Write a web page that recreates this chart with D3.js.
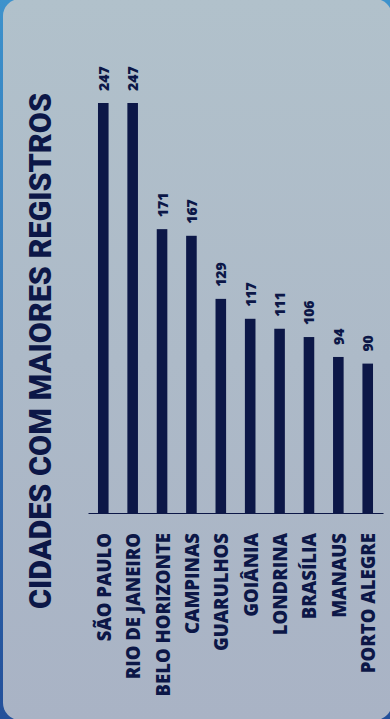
<!DOCTYPE html>
<html>
<head>
<meta charset="utf-8">
<title>Cidades com maiores registros</title>
<script src="https://d3js.org/d3.v7.min.js"></script>
<style>
  html, body { margin: 0; padding: 0; background: #3b86c4; }
  svg { display: block; }
</style>
</head>
<body>
<script>
// dados
var cidades = ["SÃO PAULO", "RIO DE JANEIRO", "BELO HORIZONTE", "CAMPINAS", "GUARULHOS",
               "GOIÂNIA", "LONDRINA", "BRASÍLIA", "MANAUS", "PORTO ALEGRE"];
var registros = [247, 247, 171, 167, 129, 117, 111, 106, 94, 90];
var titulo = "CIDADES COM MAIORES REGISTROS";

var w = 390, h = 719;
var navy = "#0c1747";

var svg = d3.select("body").append("svg")
    .attr("width", w)
    .attr("height", h);

// fundo do cartão
var defs = svg.append("defs");
var grad = defs.append("linearGradient").attr("id", "bg")
    .attr("x1", 0).attr("y1", 0).attr("x2", 0).attr("y2", 1);
grad.append("stop").attr("offset", "0%").attr("stop-color", "#b1c1cb");
grad.append("stop").attr("offset", "100%").attr("stop-color", "#a9b3c5");

var edge = defs.append("linearGradient").attr("id", "edge")
    .attr("x1", 0).attr("y1", 0).attr("x2", 0).attr("y2", 1);
edge.append("stop").attr("offset", "0%").attr("stop-color", "#3d92cc");
edge.append("stop").attr("offset", "100%").attr("stop-color", "#24509a");

svg.append("rect").attr("width", w).attr("height", h).attr("fill", "url(#edge)");
svg.append("rect")
    .attr("x", 3).attr("y", -1)
    .attr("width", 389).attr("height", 721)
    .attr("rx", 17)
    .attr("fill", "url(#bg)");

// escalas
var x = d3.scaleBand()
    .domain(cidades)
    .range([88, 383])
    .paddingInner(0.64)
    .paddingOuter(0.34);

var y = d3.scaleLinear()
    .domain([0, 247])
    .range([513, 103]);

// barras
svg.selectAll("rect.bar")
    .data(registros)
    .enter()
    .append("rect")
    .attr("class", "bar")
    .attr("x", function (d, i) { return x(cidades[i]); })
    .attr("y", function (d) { return y(d); })
    .attr("width", x.bandwidth())
    .attr("height", function (d) { return y(0) - y(d); })
    .attr("fill", navy);

// linha do eixo
var eixo = svg.append("g")
    .attr("transform", "translate(0," + y(0) + ")")
    .call(d3.axisBottom(x).tickSize(0).tickFormat(""));
eixo.select(".domain").attr("stroke", navy).attr("stroke-width", 1.2);

// valores
svg.selectAll("text.valor")
    .data(registros)
    .enter()
    .append("text")
    .attr("class", "valor")
    .attr("transform", function (d, i) {
        return "translate(" + (x(cidades[i]) + x.bandwidth() / 2) + "," + (y(d) - 12) + ") rotate(-90)";
    })
    .attr("dominant-baseline", "central")
    .attr("font-family", "Open Sans, sans-serif")
    .attr("font-weight", 800)
    .attr("font-size", 14)
    .attr("fill", navy)
    .text(function (d) { return d; });

// nomes das cidades
svg.selectAll("text.cidade")
    .data(cidades)
    .enter()
    .append("text")
    .attr("class", "cidade")
    .attr("transform", function (d) {
        return "translate(" + (x(d) + x.bandwidth() / 2) + ",533) rotate(-90)";
    })
    .attr("text-anchor", "end")
    .attr("dominant-baseline", "central")
    .attr("font-family", "Open Sans, sans-serif")
    .attr("font-weight", 800)
    .attr("font-size", 18.5)
    .attr("fill", navy)
    .text(function (d) { return d; });

// título
svg.append("text")
    .attr("transform", "translate(40,351) rotate(-90)")
    .attr("text-anchor", "middle")
    .attr("dominant-baseline", "central")
    .attr("font-family", "Roboto, sans-serif")
    .attr("font-weight", 900)
    .attr("font-size", 31)
    .attr("textLength", 516)
    .attr("lengthAdjust", "spacingAndGlyphs")
    .attr("fill", navy)
    .text(titulo);
</script>
</body>
</html>
